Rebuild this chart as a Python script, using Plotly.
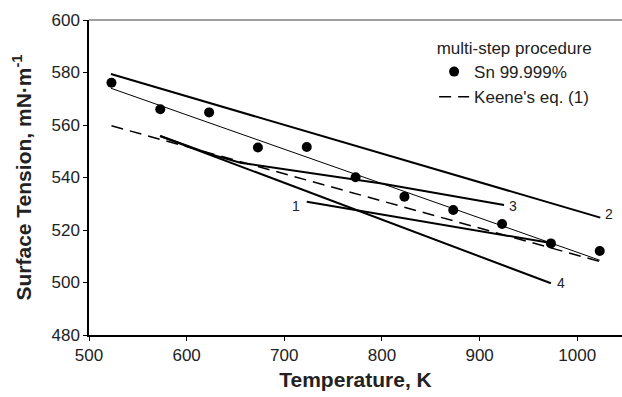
import plotly.graph_objects as go

# Data
T_pts = [523, 573, 623, 673, 723, 773, 823, 873, 923, 973, 1023]
gamma_pts = [576.1, 566.0, 564.8, 551.4, 551.6, 540.1, 532.7, 527.6, 522.3, 514.9, 512.0]

fit_T = [522.5, 1023]
fit_g = [574.0, 508.5]

keene_T = [523, 1023]
keene_g = [559.7, 508.0]

line1_T = [723, 970]
line1_g = [530.8, 515.2]
line2_T = [522.5, 1023.6]
line2_g = [579.4, 524.7]
line3_T = [573, 625, 655, 798, 925]
line3_g = [555.8, 548.8, 545.6, 537.8, 529.5]
line4_T = [572.7, 973]
line4_g = [555.8, 499.7]

x_ticks = [500, 600, 700, 800, 900, 1000]
y_ticks = [480, 500, 520, 540, 560, 580, 600]

FONT = "Liberation Sans, Arial, sans-serif"

fig = go.Figure()

for xs, ys in [(line2_T, line2_g), (line1_T, line1_g), (line3_T, line3_g), (line4_T, line4_g)]:
    fig.add_trace(go.Scatter(x=xs, y=ys, mode="lines", line=dict(color="black", width=2),
                             showlegend=False, hoverinfo="skip"))

fig.add_trace(go.Scatter(x=fit_T, y=fit_g, mode="lines", line=dict(color="black", width=1),
                         showlegend=False))
fig.add_trace(go.Scatter(x=T_pts, y=gamma_pts, mode="markers", name="Sn 99.999%",
                         marker=dict(color="black", size=10)))
fig.add_trace(go.Scatter(x=keene_T, y=keene_g, mode="lines", name="Keene's eq. (1)",
                         line=dict(color="black", width=1.5, dash="12px,7px")))

# labels of numbered lines
lab_font = dict(family=FONT, size=14, color="#222")
fig.add_annotation(x=line1_T[0], y=line1_g[0], text="1", showarrow=False, xanchor="right",
                   xshift=-5, yshift=-4, font=lab_font)
fig.add_annotation(x=line2_T[-1], y=line2_g[-1], text="2", showarrow=False, xanchor="left",
                   xshift=3, yshift=4, font=lab_font)
fig.add_annotation(x=line3_T[-1], y=line3_g[-1], text="3", showarrow=False, xanchor="left",
                   xshift=3, yshift=-1, font=lab_font)
fig.add_annotation(x=line4_T[-1], y=line4_g[-1], text="4", showarrow=False, xanchor="left",
                   xshift=4, yshift=0, font=lab_font)

# gray top border
fig.add_shape(type="line", xref="paper", yref="paper", x0=0, x1=1, y0=1, y1=1,
              line=dict(color="#808080", width=1.5))

fig.update_layout(
    width=622, height=397,
    margin=dict(l=89, r=0, t=20, b=62),
    paper_bgcolor="white", plot_bgcolor="white",
    font=dict(family=FONT, size=17, color="#222"),
    legend=dict(x=0.6475, y=0.962, xanchor="left", yanchor="top",
                bgcolor="rgba(0,0,0,0)",
                title=dict(text="multi-step procedure", side="top center",
                           font=dict(size=17, family=FONT, color="#222")),
                font=dict(size=17, family=FONT, color="#222"),
                tracegroupgap=0, itemwidth=30),
    xaxis=dict(range=[500, 1045.8], tickvals=x_ticks, ticks="outside", ticklen=4,
               tickcolor="black", showline=True, linecolor="black", linewidth=1.5,
               showgrid=False, zeroline=False, tickfont=dict(size=17),
               title=dict(text="<b>Temperature, K</b>", font=dict(size=21), standoff=8)),
    yaxis=dict(range=[480, 600], tickvals=y_ticks, ticks="outside", ticklen=4,
               tickcolor="black", showline=True, linecolor="black", linewidth=1.5,
               showgrid=False, zeroline=False, tickfont=dict(size=17),
               title=dict(text="<b>Surface Tension, mN·m<sup>-1</sup></b>", font=dict(size=21),
                          standoff=14)),
)

fig.write_html("out.html")
